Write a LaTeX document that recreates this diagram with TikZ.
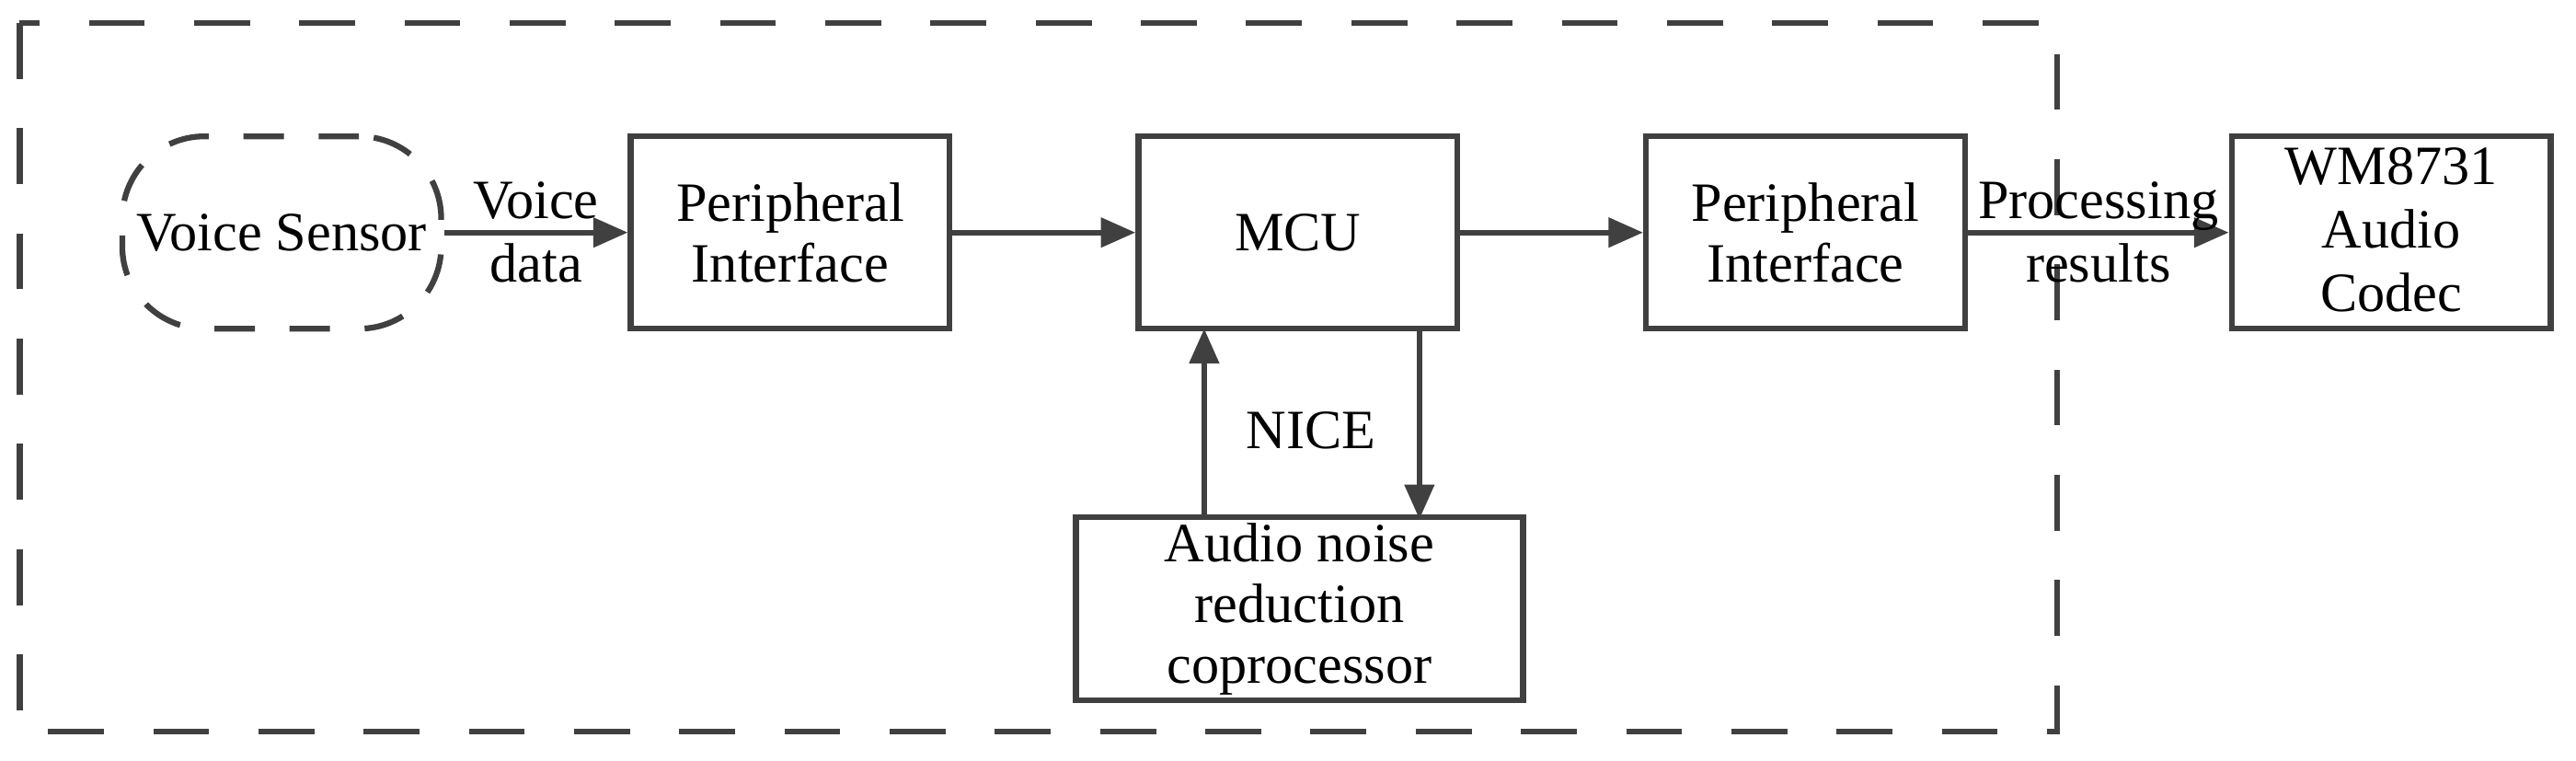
\documentclass[tikz,border=0pt]{standalone}
\usepackage{fontspec}
\setmainfont{Liberation Serif}
\usetikzlibrary{arrows.meta}
\begin{document}
\begin{tikzpicture}[x=0.01cm,y=-0.01cm,
  line width=0.9pt, draw=black!75,
  box/.style={draw=black!75,line width=1pt,minimum width=1.94cm,minimum height=1.17cm,align=center,inner sep=1pt,font=\fontsize{9.6}{10.5}\selectfont},
  lbl/.style={align=center,font=\fontsize{9.6}{11}\selectfont,inner sep=0pt},
  arr/.style={-{Triangle[length=6pt,width=5pt]},draw=black!75,line width=1pt}]
\useasboundingbox (0,0) rectangle (1568,463);
\draw[black!75,line width=1pt,dash pattern=on 0.34cm off 0.3cm] (12,14) rectangle (1252,445);
\node[box,dash pattern=on 7pt off 6pt,rounded corners=0.5cm] (vs) at (171.5,141.5) {Voice Sensor};
\node[box] (p1) at (481,141.5) {Peripheral\\Interface};
\node[box] (mcu) at (790,141.5) {MCU};
\node[box] (p2) at (1099,141.5) {Peripheral\\Interface};
\node[box] (wm) at (1455.5,141.5) {};
\node[lbl,anchor=north] (wmt) at (1455.5,88) {WM8731\\Audio\\Codec};
\node[box,minimum width=2.72cm,minimum height=1.09cm] (an) at (791,370.5) {Audio noise\\reduction\\coprocessor};
\draw[arr] (vs) -- (p1) node[lbl,midway] (l1) {Voice\\data};
\draw[arr] (p1) -- (mcu);
\draw[arr] (mcu) -- (p2);
\draw[arr] (p2) -- (wm) node[lbl,midway] (l2) {Processing\\results};
\coordinate (au) at (733,316);
\coordinate (mu) at (733,200);
\coordinate (md) at (864,200);
\coordinate (ad) at (864,316);
\draw[arr] (au) -- (mu);
\draw[arr] (md) -- (ad);
\node[lbl] (nice) at (798,262) {NICE};
\end{tikzpicture}
\end{document}
